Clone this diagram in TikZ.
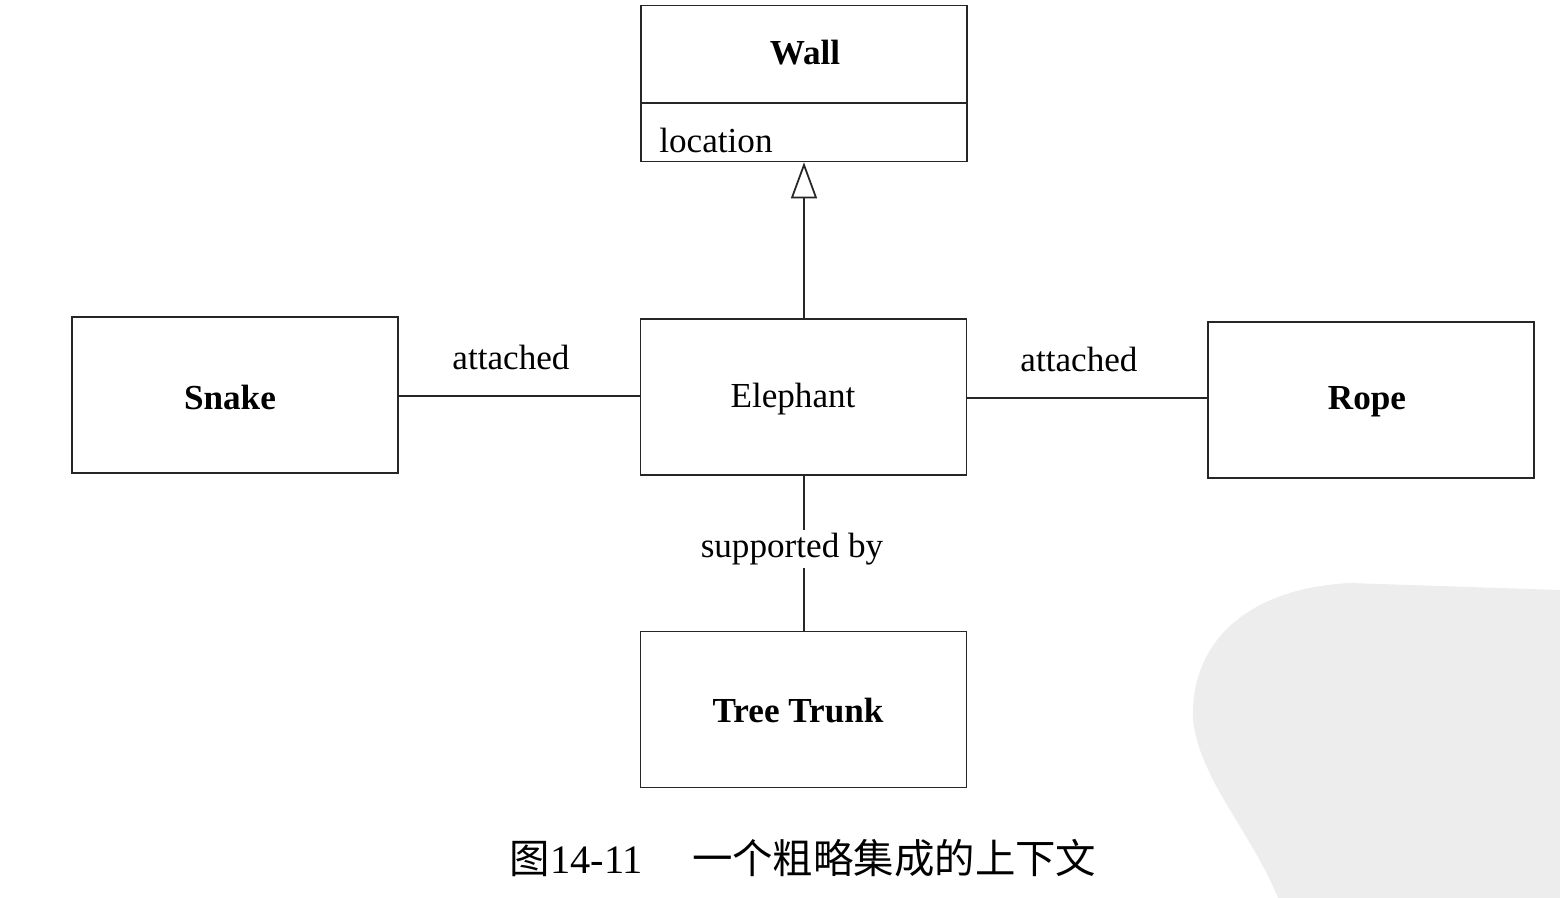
\documentclass[tikz,border=0pt]{standalone}
\usepackage{fontspec}
\setmainfont{Liberation Serif}
\newfontfamily\cjk{Noto Sans CJK SC}
\usetikzlibrary{arrows.meta}
\tikzset{
  cls/.style={draw=black!85, line width=1pt, minimum width=6.52cm, minimum height=3.12cm, inner sep=0pt},
  assoc/.style={draw=black!85, line width=1pt},
  role/.style={font=\fontsize{20}{24}\selectfont, fill=white, inner sep=2pt},
}

\begin{document}
\begin{tikzpicture}[x=0.02cm, y=-0.02cm, font=\fontsize{20}{24}\selectfont]
 		\useasboundingbox (0,0) rectangle (1560,898);
 		% watermark
 		\fill [black!7] (1278,898) .. controls (1250,830) and (1200,780) .. (1193,720)
 		      .. controls (1190,640) and (1250,588) .. (1350,583)
 		      -- (1560,590) -- (1560,898) -- cycle;

 		\node [cls] (wall) at (804,83.5) {};
 		\node [font=\bfseries\fontsize{20}{24}\selectfont] (walltitle) at (805,53) {Wall};
 		\draw [assoc] (wall.west |- 0,103) -- (wall.east |- 0,103);
 		\node [anchor=west, inner sep=0pt] (wallattr) at (659,140) {location};

 		\node [cls] (elephant) at (803.5,397) {};
 		\node (elephanttxt) at (793,399) {Elephant};
 		\node [cls, font=\bfseries\fontsize{20}{24}\selectfont] (snake) at (235,395) {};
 		\node [font=\bfseries\fontsize{20}{24}\selectfont] (snaketxt) at (230,397) {Snake};
 		\node [cls] (rope) at (1371,400) {};
 		\node [font=\bfseries\fontsize{20}{24}\selectfont] (ropetxt) at (1367,402) {Rope};
 		\node [cls] (trunk) at (803.5,709.5) {};
 		\node [font=\bfseries\fontsize{20}{24}\selectfont] (trunktxt) at (798,711) {Tree Trunk};

 		\draw [assoc, -{Triangle[open, length=7.2mm, width=5.2mm]}] (elephant.north -| 804,0) -- (wall.south -| 804,0);
 		\draw [assoc] (snake.east |- 0,396) -- (elephant.west |- 0,396);
 		\draw [assoc] (elephant.east |- 0,398) -- (rope.west |- 0,398);
 		\draw [assoc] (elephant.south -| 804,0) -- (trunk.north -| 804,0);

 		\node [role] (snakerole) at (511,357) {attached};
 		\node [role] (roperole) at (1079,359) {attached};
 		\node [role] (trunkrole) at (792,549) {supported by};

 		\node [inner sep=0pt] (caption) at (803,858)
 		      {{\cjk\fontsize{23}{26}\selectfont 图}{\fontsize{23}{26}\selectfont 14-11}\hspace{1.4em}{\cjk\fontsize{23}{26}\selectfont 一个粗略集成的上下文}};
\end{tikzpicture}
\end{document}
